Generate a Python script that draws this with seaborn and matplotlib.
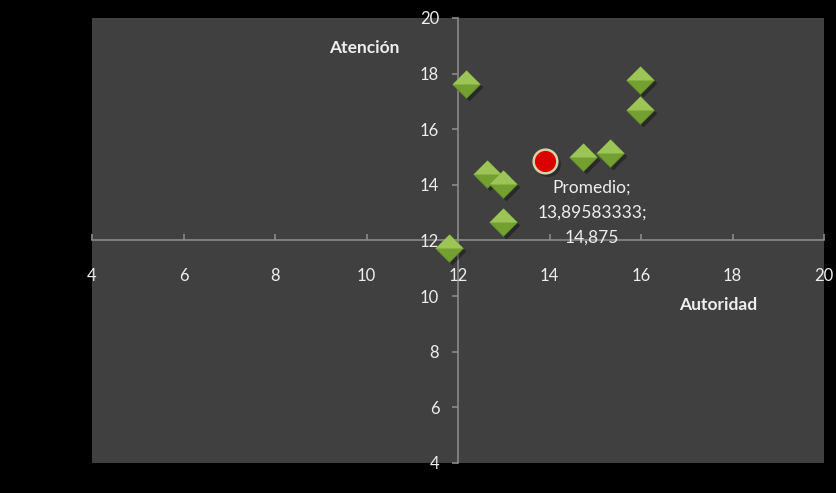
import pandas as pd
import matplotlib
matplotlib.use('Agg')
import matplotlib.pyplot as plt
import matplotlib.transforms as mtransforms
import seaborn as sns

# data
autoridad = [12.17, 15.98, 15.98, 14.73, 15.32, 12.63, 12.98, 12.98, 11.80]
atencion = [17.62, 17.78, 16.70, 15.00, 15.14, 14.40, 14.02, 12.68, 11.72]
promedio_x = [13.89583333]
promedio_y = [14.875]
promedio_label = 'Promedio;\n13,89583333;\n14,875'
ticks = [4, 6, 8, 10, 12, 14, 16, 18, 20]

TXT = '#eeeeee'
FS = 12.5
plt.rcParams['font.family'] = ['Lato', 'DejaVu Sans']

df = pd.DataFrame({'Autoridad': autoridad, 'Atencion': atencion})
prom = pd.DataFrame({'Autoridad': promedio_x, 'Atencion': promedio_y})

fig = plt.figure(figsize=(8.37, 4.93), dpi=100, facecolor='black')
ax = fig.add_axes([0.110, 0.061, 0.8745, 0.9025])
ax.set_facecolor('#404040')

# diamond shapes, full and top half for shading
diamond = [(0, 1), (1, 0), (0, -1), (-1, 0)]
top_half = [(-1, 0), (0, 1), (1, 0), (0, 0.0)]
msize = 400

# shadow under the diamonds
shadow = mtransforms.offset_copy(ax.transData, fig=fig, x=3, y=-3, units='dots')
ax.scatter(df['Autoridad'], df['Atencion'], marker=diamond, s=msize,
           color='black', alpha=0.35, linewidths=0, transform=shadow, zorder=2)

sns.scatterplot(data=df, x='Autoridad', y='Atencion', marker=diamond, s=msize,
                color='#74a032', edgecolor='#5e8526', linewidth=0.6, ax=ax, zorder=3)
sns.scatterplot(data=df, x='Autoridad', y='Atencion', marker=top_half, s=msize,
                color='#9cc456', linewidth=0, ax=ax, zorder=4)

# average point
ax.scatter(prom['Autoridad'], prom['Atencion'], s=320, color='black', alpha=0.3,
           linewidths=0, transform=shadow, zorder=2)
sns.scatterplot(data=prom, x='Autoridad', y='Atencion', marker='o', s=290,
                color='#dd0000', edgecolor='#d8d2a8', linewidth=1.8, ax=ax, zorder=5)
ax.annotate(promedio_label, (promedio_x[0], promedio_y[0]), xytext=(34, -37.5),
            textcoords='offset points', ha='center', va='center', color=TXT,
            fontsize=FS, linespacing=1.68, zorder=6)

ax.set_xlim(4, 20)
ax.set_ylim(4, 20)
ax.set_xticks(ticks)
ax.set_yticks(ticks)
ax.set_xlabel('')
ax.set_ylabel('')

# axes crossing at (12, 12)
for s in ['top', 'right']:
    ax.spines[s].set_visible(False)
ax.spines['left'].set_position(('data', 12))
ax.spines['bottom'].set_position(('data', 12))
for s in ['left', 'bottom']:
    ax.spines[s].set_color('#8a8a8a')
    ax.spines[s].set_linewidth(1.2)
    ax.spines[s].set_zorder(1)

ax.tick_params(axis='x', direction='in', length=4, width=1.2, color='#8a8a8a',
               pad=20, labelsize=12, labelcolor=TXT)
ax.tick_params(axis='y', direction='out', length=4.5, width=1.2, color='#8a8a8a',
               pad=9, labelsize=12, labelcolor=TXT)
for lab in ax.get_xticklabels() + ax.get_yticklabels():
    lab.set_clip_on(False)

ax.text(0.372, 0.933, 'Atención', transform=ax.transAxes, ha='center', va='center',
        color=TXT, fontsize=FS, fontweight='bold')
ax.text(0.855, 0.355, 'Autoridad', transform=ax.transAxes, ha='center', va='center',
        color=TXT, fontsize=FS, fontweight='bold')

fig.savefig('out.png', dpi=100, facecolor='black')
